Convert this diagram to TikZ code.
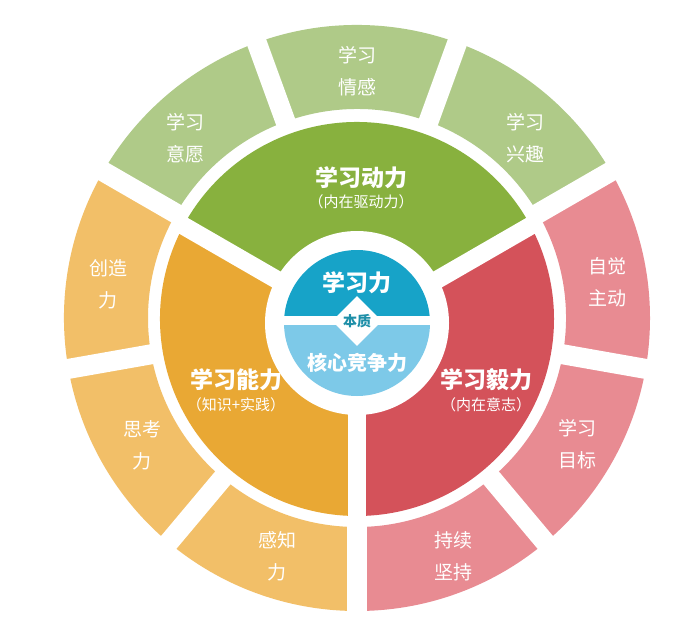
\documentclass[tikz,border=0pt]{standalone}
\usepackage{fontspec}
\newfontfamily\cjk{Noto Sans CJK SC}
\usetikzlibrary{calc,shapes.geometric}
\definecolor{gD}{HTML}{88B13E}
\definecolor{gL}{HTML}{AFCA88}
\definecolor{oD}{HTML}{E9A834}
\definecolor{oL}{HTML}{F2BF68}
\definecolor{rD}{HTML}{D4525A}
\definecolor{rL}{HTML}{E88B92}
\definecolor{bD}{HTML}{17A3C8}
\definecolor{bL}{HTML}{7DC9E8}
\definecolor{tealT}{HTML}{1E8FA8}
\newcommand\myringseg[3]{\fill[#1] ($(O)+(#2:293)$) arc[start angle=#2,end angle=#3,radius=293] -- ($(O)+(#3:209)$) arc[start angle=#3,end angle=#2,radius=209] -- cycle;}
\newcommand\mypie[3]{\fill[#1] (M) -- ($(M)+(#2:197)$) arc[start angle=#2,end angle=#3,radius=197] -- cycle;}
\begin{document}
\begin{tikzpicture}[x=1pt,y=1pt,
  seglabel/.style={text=white, font=\cjk\fontsize{19}{32}\selectfont, align=center, inner sep=0pt},
  maintitle/.style={text=white, font=\cjk\bfseries\fontsize{23}{26}\selectfont, inner sep=0pt},
  subtitle/.style={text=white, font=\cjk\fontsize{15}{18}\selectfont, inner sep=0pt},
  outergap/.style={white, line width=20pt},
  midgap/.style={white, line width=18pt},
]
\useasboundingbox[fill=white] (0,0) rectangle (700,641);
\coordinate (O) at (357,323);
\coordinate (M) at (357,322);
\coordinate (G) at (357,315);
\coordinate (H) at (357,318);
% outer ring
\myringseg{gL}{30}{150}
\myringseg{oL}{150}{270}
\myringseg{rL}{270}{390}
\foreach \a in {30,70,...,350} \draw[outergap] (O) -- ++(\a:300);
% middle ring
\mypie{gD}{30}{150}
\mypie{oD}{150}{270}
\mypie{rD}{270}{390}
\foreach \a in {30,150,270} \draw[midgap] (G) -- ++(\a:203);
% hub
\fill[white] (H) circle (92);
\fill[bD] ($(H)+(0:73)$) arc[start angle=0,end angle=180,radius=73] -- cycle;
\fill[bL] ($(H)+(180:73)$) arc[start angle=180,end angle=360,radius=73] -- cycle;
\fill[white] (280,316) rectangle (434,325);
\node[diamond, fill=white, minimum width=50, minimum height=50, inner sep=0pt, text=tealT, font=\cjk\bfseries\fontsize{14}{16}\selectfont] (core) at (357,320) {本质};
\node[maintitle] (xxl) at (357,358) {学习力};
\node[text=white, font=\cjk\bfseries\fontsize{20}{24}\selectfont, inner sep=0pt] (hxjz) at (357,278) {核心竞争力};
% middle titles
\node[maintitle] (dl) at (361,463) {学习动力};
\node[subtitle] (dls) at (361,439) {（内在驱动力）};
\node[maintitle] (nl) at (236,261) {学习能力};
\node[subtitle] (nls) at (236,236) {（知识+实践）};
\node[maintitle] (yl) at (486,261) {学习毅力};
\node[subtitle] (yls) at (486,236) {（内在意志）};
% outer labels
\node[seglabel] (qg) at (357,570) {学习\\情感};
\node[seglabel] (yy) at (185,502.5) {学习\\意愿};
\node[seglabel] (xq) at (525,502.5) {学习\\兴趣};
\node[seglabel] (cz) at (108,357) {创造\\力};
\node[seglabel] (sk) at (142,196) {思考\\力};
\node[seglabel] (gz) at (277,84.5) {感知\\力};
\node[seglabel] (cx) at (453,84.5) {持续\\坚持};
\node[seglabel] (mb) at (577,197) {学习\\目标};
\node[seglabel] (zj) at (607,358.5) {自觉\\主动};
\end{tikzpicture}
\end{document}
